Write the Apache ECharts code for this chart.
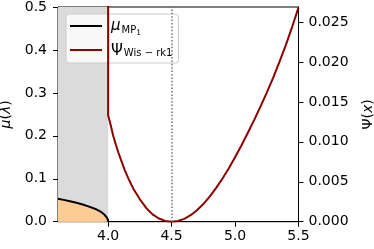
<!DOCTYPE html>
<html>
<head>
<meta charset="utf-8">
<script src="https://cdn.jsdelivr.net/npm/echarts@6/dist/echarts.min.js"></script>
<style>
html,body{margin:0;padding:0;background:#fff;}
#c{width:374px;height:249px;}
</style>
</head>
<body>
<div id="c"></div>
<script>
// ---- data ----
const X_MIN = 3.605;
const X_MAX = 5.5;
const SUPPORT_EDGE = 4.0;
const PSI_MIN_X = 4.5;
const xTicks = [4.0, 4.5, 5.0, 5.5];
const muTicks = [0.0, 0.1, 0.2, 0.3, 0.4, 0.5];
const psiTicks = [0.000, 0.005, 0.010, 0.015, 0.020, 0.025];
const MU_MAX = 0.5;
const PSI_MAX = 0.02688;

// mu_MP1 density (x, mu)
const muX = [3.605, 3.65, 3.70, 3.75, 3.80, 3.85, 3.90, 3.94, 3.97, 3.99, 3.998, 4.0];
const muY = [0.0535, 0.0508, 0.0478, 0.0443, 0.0400, 0.0350, 0.0297, 0.0237, 0.0168, 0.0097, 0.0045, 0.0];

// Psi_Wis-rk1 (x, Psi); first point lies above the top of the axis (vertical wall at 4.0)
const psiX = [4.0, 4.0, 4.02, 4.04, 4.06, 4.08, 4.10, 4.13, 4.16, 4.20, 4.25, 4.30, 4.35, 4.40, 4.45, 4.50,
              4.55, 4.60, 4.65, 4.70, 4.75, 4.80, 4.85, 4.90, 4.95, 5.00, 5.05, 5.10, 5.15, 5.20, 5.25,
              5.30, 5.35, 5.40, 5.45, 5.50];
const psiY = [0.05, 0.01334, 0.0121, 0.01075, 0.0097, 0.0087, 0.0078, 0.0065, 0.0054, 0.0041, 0.0028, 0.00172, 0.00092, 0.0004, 0.0001, 0.0,
              0.00009, 0.00036, 0.00081, 0.00143, 0.00221, 0.00314, 0.0042, 0.00538, 0.00667, 0.00806, 0.00954, 0.0111, 0.01272, 0.0144, 0.01615,
              0.018, 0.02, 0.0221, 0.0244, 0.0268];

const FONT = 'DejaVu Sans';
const muData = muX.map((x, i) => [x, muY[i]]);
const psiData = psiX.map((x, i) => [x, psiY[i]]);

const chart = echarts.init(document.getElementById('c'), null, {renderer: 'canvas'});

const axisCommon = {
  axisLine: {show: true, onZero: false, lineStyle: {color: '#000', width: 1}},
  axisTick: {show: true, inside: false, length: 5, lineStyle: {color: '#000', width: 1}},
  splitLine: {show: false},
};

chart.setOption({
  animation: false,
  backgroundColor: '#fff',
  grid: {left: 58, right: 75.5, top: 7, bottom: 27.3, outerBoundsMode: 'none', containLabel: false,
         show: true, borderColor: '#000', borderWidth: 1, backgroundColor: 'transparent'},
  legend: {
    data: ['mu', 'psi'],
    left: 66, top: 14,
    orient: 'vertical',
    itemWidth: 32, itemHeight: 2,
    itemGap: 0,
    icon: 'rect',
    padding: [0, 6, 1, 4],
    backgroundColor: 'rgba(255,255,255,0.8)',
    borderColor: '#cccccc', borderWidth: 1, borderRadius: 3,
    formatter: function (name) {
      if (name === 'mu') return '{m|μ}{s|MP}{ss|1}';
      return '{p|Ψ}{s2|Wis − rk1}';
    },
    textStyle: {
      color: '#000', fontFamily: FONT, fontSize: 15, lineHeight: 24,
      padding: [0, 0, 0, 4],
      rich: {
        m: {fontFamily: FONT, fontSize: 15, fontStyle: 'italic', verticalAlign: 'middle', lineHeight: 24, color: '#000'},
        s: {fontFamily: FONT, fontSize: 10, verticalAlign: 'bottom', lineHeight: 10, padding: [0, 0, 2.4, 1], color: '#000'},
        ss: {fontFamily: FONT, fontSize: 7.5, verticalAlign: 'bottom', lineHeight: 8, padding: [0, 0, 1, 0], color: '#000'},
        p: {fontFamily: FONT, fontSize: 15, verticalAlign: 'middle', lineHeight: 24, padding: [2, 0, 0, 0], color: '#000'},
        s2: {fontFamily: FONT, fontSize: 10, verticalAlign: 'bottom', lineHeight: 10, padding: [0, 0, 4, 1], color: '#000'}
      }
    }
  },
  xAxis: Object.assign({}, axisCommon, {
    type: 'value', min: X_MIN, max: X_MAX,
    axisTick: Object.assign({}, axisCommon.axisTick, {customValues: xTicks}),
    axisLabel: {customValues: xTicks, formatter: v => v.toFixed(1), color: '#000', fontFamily: FONT, fontSize: 14, margin: 8}
  }),
  yAxis: [
    Object.assign({}, axisCommon, {
      type: 'value', min: 0, max: MU_MAX, position: 'left',
      name: '{i|μ}({i|λ})', nameLocation: 'middle', nameGap: 42,
      nameTextStyle: {color: '#000', fontFamily: FONT, fontSize: 14, rich: {i: {fontFamily: FONT, fontSize: 14, fontStyle: 'italic', color: '#000'}}},
      axisTick: Object.assign({}, axisCommon.axisTick, {customValues: muTicks}),
      axisLabel: {customValues: muTicks, formatter: v => v.toFixed(1), color: '#000', fontFamily: FONT, fontSize: 14, margin: 11}
    }),
    Object.assign({}, axisCommon, {
      type: 'value', min: 0, max: PSI_MAX, position: 'right',
      name: 'Ψ({i|x})', nameLocation: 'middle', nameGap: 63,
      nameTextStyle: {color: '#000', fontFamily: FONT, fontSize: 14, rich: {i: {fontFamily: FONT, fontSize: 14, fontStyle: 'italic', color: '#000'}}},
      axisTick: Object.assign({}, axisCommon.axisTick, {customValues: psiTicks}),
      axisLabel: {customValues: psiTicks, formatter: v => v.toFixed(3), color: '#000', fontFamily: FONT, fontSize: 14, margin: 10}
    })
  ],
  series: [
    {
      name: 'support', type: 'line', data: [], z: 1, silent: true,
      markArea: {
        silent: true,
        itemStyle: {color: '#dbdbdb'},
        data: [[{xAxis: X_MIN}, {xAxis: SUPPORT_EDGE}]]
      }
    },
    {
      name: 'mu', type: 'line', data: muData, yAxisIndex: 0, z: 2,
      showSymbol: false, symbol: 'none', smooth: false,
      itemStyle: {color: '#000'},
      lineStyle: {color: '#000', width: 2},
      areaStyle: {color: '#fecb94', opacity: 1, origin: 'start'}
    },
    {
      name: 'dotted', type: 'line', data: [], z: 3, silent: true,
      markLine: {
        silent: true, symbol: 'none',
        label: {show: false},
        lineStyle: {color: '#7a7a7a', width: 1.6, type: [1.5, 1.9]},
        data: [{xAxis: PSI_MIN_X}]
      }
    },
    {
      name: 'psi', type: 'line', data: psiData, yAxisIndex: 1, z: 4,
      showSymbol: false, symbol: 'none', smooth: false, clip: true,
      itemStyle: {color: '#8b0000'},
      lineStyle: {color: '#8b0000', width: 2}
    }
  ]
});
</script>
</body>
</html>
